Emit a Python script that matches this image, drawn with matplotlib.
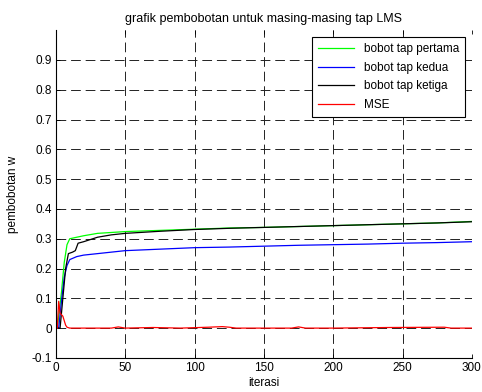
import matplotlib.pyplot as plt

plt.rcParams['font.family'] = ['Liberation Sans', 'DejaVu Sans']
plt.rcParams['font.size'] = 8.5

# iterations and weight estimates
it_pertama = [1, 2, 4, 6, 8, 10, 15, 20, 30, 50, 75, 100, 125, 150, 175, 200, 225, 250, 275, 300]
w_pertama = [0, 0.04, 0.12, 0.22, 0.28, 0.30, 0.305, 0.31, 0.318, 0.324, 0.328, 0.332, 0.336, 0.338, 0.341, 0.344, 0.347, 0.350, 0.353, 0.358]

it_kedua = [1, 2, 4, 6, 8, 10, 15, 20, 30, 50, 75, 100, 125, 150, 175, 200, 225, 250, 275, 300]
w_kedua = [0, 0.0, 0.09, 0.17, 0.21, 0.23, 0.24, 0.245, 0.25, 0.26, 0.265, 0.27, 0.272, 0.275, 0.278, 0.28, 0.282, 0.285, 0.287, 0.29]

it_ketiga = [1, 2, 3, 5, 7, 9, 12, 14, 16, 20, 30, 40, 50, 75, 100, 125, 150, 175, 200, 225, 250, 275, 300]
w_ketiga = [0, 0, 0.0, 0.1, 0.2, 0.25, 0.255, 0.26, 0.285, 0.29, 0.305, 0.313, 0.318, 0.325, 0.331, 0.335, 0.338, 0.341, 0.344, 0.347, 0.350, 0.353, 0.357]

it_mse = [1, 2, 3, 4, 5, 6, 7, 8, 10, 20, 40, 45, 50, 70, 90, 110, 120, 125, 130, 150, 170, 175, 180, 200, 240, 280, 285, 300]
mse = [0, 0.09, 0.05, 0.045, 0.04, 0.025, 0.01, 0.003, 0, 0, 0, 0.004, 0, 0.002, 0, 0.003, 0.005, 0.003, 0, 0, 0, 0.004, 0, 0, 0.002, 0.003, 0, 0]

fig = plt.figure(figsize=(4.82, 3.92), dpi=100)
ax = fig.add_axes([0.116, 0.087, 0.863, 0.836])

ax.plot(it_pertama, w_pertama, color='#00ff00', lw=0.9, label='bobot tap pertama')
ax.plot(it_kedua, w_kedua, color='#0000ff', lw=0.9, label='bobot tap kedua')
ax.plot(it_ketiga, w_ketiga, color='black', lw=0.9, label='bobot tap ketiga')
ax.plot(it_mse, mse, color='red', lw=0.9, label='MSE')

ax.set_xlim(0, 300)
ax.set_ylim(-0.1, 1.0)
ax.set_xticks(range(0, 301, 50))
ax.set_yticks([-0.1, 0, 0.1, 0.2, 0.3, 0.4, 0.5, 0.6, 0.7, 0.8, 0.9])
ax.set_yticklabels(['-0.1', '0', '0.1', '0.2', '0.3', '0.4', '0.5', '0.6', '0.7', '0.8', '0.9'])
ax.grid(True, color='#222222', linestyle=(0, (10, 5)), lw=0.7)
ax.tick_params(direction='in', length=3, width=0.6, top=True, right=False, pad=3)
ax.spines['top'].set_visible(False)
ax.spines['right'].set_visible(False)
ax.spines['left'].set_linewidth(0.8)
ax.spines['bottom'].set_linewidth(0.8)

ax.set_title('grafik pembobotan untuk masing-masing tap LMS', fontsize=9, pad=6)
ax.set_xlabel('iterasi', labelpad=2)
ax.set_ylabel('pembobotan w', labelpad=9)

leg = ax.legend(loc='upper right', fancybox=False, framealpha=1, edgecolor='black',
                handlelength=3.1, borderaxespad=0.6, labelspacing=0.55, fontsize=8.5,
                borderpad=0.5)
leg.get_frame().set_linewidth(0.8)

fig.savefig('out.png', dpi=100)
